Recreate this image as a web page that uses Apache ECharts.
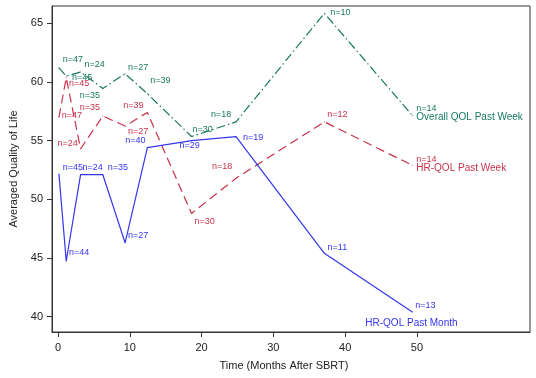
<!doctype html>
<html>
<head>
<meta charset="UTF-8">
<title>Averaged Quality of Life</title>
<script src="https://cdn.jsdelivr.net/npm/echarts@6/dist/echarts.min.js"></script>
<style>html,body{margin:0;padding:0;background:#fff;}</style>
</head>
<body>
<div id="main" style="width:536px;height:378px;"></div>
<script>
// time points (months after SBRT) and averaged QOL per curve
var months = [0.14, 1.15, 3.15, 6.25, 9.35, 12.45, 18.6, 24.8, 37.1, 49.35];
var overallWeek = [61.2, 60.5, 60.85, 59.45, 60.7, 59.0, 55.35, 56.6, 65.85, 57.15];
var hrWeek = [57.0, 60.35, 54.3, 57.1, 56.25, 57.4, 48.8, 51.8, 56.6, 52.9];
var hrMonth = [52.15, 44.75, 52.1, 52.1, 46.3, 54.4, 55.0, 55.35, 45.4, 40.4];
// number of patients at each point
var nOverall = [47, 45, 24, 35, 27, 39, 30, 18, 10, 14];
var nHrWeek = [47, 45, 24, 35, 27, 39, 30, 18, 12, 14];
var nHrMonth = [45, 44, 24, 35, 27, 40, 29, 19, 11, 13];
var xTicks = [0, 10, 20, 30, 40, 50];
var yTicks = [40, 45, 50, 55, 60, 65];

// where each n= label sits relative to its point (px)
var offOverall = [[14,-8],[16,1],[14,-7],[-13,7],[13,-6],[13,-13],[11,-7],[-15,-7],[16,-1],[4,-2]];
var offHrWeek = [[13,-2],[13,6],[-13,-5],[-13,-8],[13,6],[-14,-7],[13,8],[-14,-12],[13,-7],[4,-1]];
var offHrMonth = [[14,-7],[13,-8],[12,-7],[15,-7],[13,-7],[-12,-7],[-2,5],[17,1],[13,-6],[-47,7]];

var green = '#17795e', red = '#c8324b', blue = '#3535ee';
var font = 'Liberation Sans, Arial, sans-serif';

function makeSeries(name, vals, ns, offs, color, dash, lastRich) {
    var data = vals.map(function (v, i) {
        var item = {value: [months[i], v], label: {offset: offs[i]}};
        if (i === vals.length - 1) {
            item.label.align = 'left';
            item.label.formatter = '{n|n=' + ns[i] + '}\n{s|' + name + '}';
            item.label.rich = lastRich;
        }
        return item;
    });
    return {
        name: name,
        type: 'line',
        data: data,
        symbol: 'circle',
        symbolSize: 1,
        itemStyle: {color: color},
        lineStyle: {color: color, width: 1.2, type: dash},
        label: {
            show: true,
            position: 'inside',
            color: color,
            fontSize: 9,
            fontFamily: font,
            formatter: function (p) { return 'n=' + ns[p.dataIndex]; }
        },
        emphasis: {disabled: true},
        silent: true
    };
}

var myChart = echarts.init(document.getElementById('main'));

var option = {
    animation: false,
    grid: {left: 50.7, right: 6, top: 6, bottom: 46, show: true, borderColor: '#333', borderWidth: 1},
    xAxis: {
        type: 'value', min: -0.83, max: 65.74,
        name: 'Time (Months After SBRT)', nameLocation: 'middle', nameGap: 28,
        nameTextStyle: {fontSize: 11, color: '#222', fontFamily: font, padding: [0, 14, 0, 0]},
        axisLine: {show: true, onZero: false, lineStyle: {color: '#333'}},
        axisTick: {show: true, length: 5, customValues: xTicks, lineStyle: {color: '#333'}},
        axisLabel: {customValues: xTicks, margin: 10, fontSize: 11, color: '#222', fontFamily: font},
        splitLine: {show: false}
    },
    yAxis: {
        type: 'value', min: 38.7, max: 66.47,
        name: 'Averaged Quality of Life', nameLocation: 'middle', nameGap: 33,
        nameTextStyle: {fontSize: 11, color: '#222', fontFamily: font},
        axisLine: {show: true, onZero: false, lineStyle: {color: '#333'}},
        axisTick: {show: true, length: 5, customValues: yTicks, lineStyle: {color: '#333'}},
        axisLabel: {customValues: yTicks, margin: 9, fontSize: 11, color: '#222', fontFamily: font},
        splitLine: {show: false}
    },
    series: [
        makeSeries('Overall QOL Past Week', overallWeek, nOverall, offOverall, green, [9, 3, 1.5, 3],
            {n: {fontSize: 9, lineHeight: 8, color: green, fontFamily: font},
             s: {fontSize: 10, lineHeight: 9, color: green, fontFamily: font}}),
        makeSeries('HR-QOL Past Week', hrWeek, nHrWeek, offHrWeek, red, [9, 5],
            {n: {fontSize: 9, lineHeight: 8, color: red, fontFamily: font},
             s: {fontSize: 10, lineHeight: 9, color: red, fontFamily: font}}),
        makeSeries('HR-QOL Past Month', hrMonth, nHrMonth, offHrMonth, blue, 'solid',
            {n: {fontSize: 9, lineHeight: 8, color: blue, fontFamily: font, padding: [0, 0, 0, 50]},
             s: {fontSize: 10, lineHeight: 27, color: blue, fontFamily: font}})
    ]
};

myChart.setOption(option);
</script>
</body>
</html>
